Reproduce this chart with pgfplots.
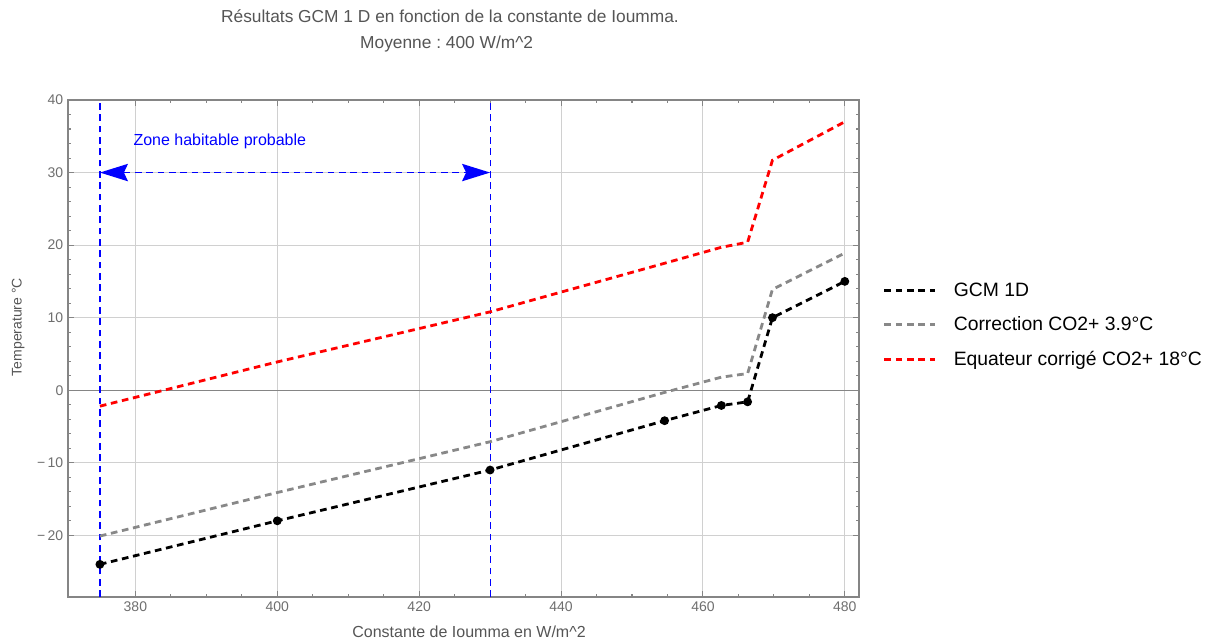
\documentclass[border=0pt]{standalone}
\usepackage{fontspec}
\setmainfont{Liberation Sans}
\usepackage{pgfplots}
\pgfplotsset{compat=1.18}
\usetikzlibrary{arrows.meta}
\frenchspacing

\definecolor{txtgray}{HTML}{555555}
\definecolor{tickgray}{HTML}{6E6E6E}
\definecolor{framegray}{HTML}{858585}
\definecolor{gridgray}{HTML}{D0D0D0}
\definecolor{corrgray}{HTML}{888888}

\begin{document}
\begin{tikzpicture}
\begin{axis}[
    scale only axis,
    width=593.25pt, height=372.75pt,
    xmin=370.5, xmax=482,
    ymin=-28.5, ymax=40,
    xtick={380,400,...,480},
    ytick={-20,-10,...,40},
    yticklabels={−\,20,−\,10,0,10,20,30,40},
    minor x tick num=3,
    minor y tick num=4,
    major tick length=4.5pt,
    minor tick length=2.5pt,
    tick style={framegray, line width=0.8pt},
    axis line style={framegray, line width=0.9pt},
    grid=major,
    grid style={gridgray, line width=0.7pt},
    extra y ticks={0},
    extra y tick labels={},
    extra y tick style={grid style={framegray, line width=0.9pt}},
    ticklabel style={font=\fontsize{10.5}{12}\selectfont, text=tickgray},
    /pgf/number format/assume math mode=true,
    xlabel={Constante de Ioumma en W/m\^{}2},
    ylabel={Temperature  °C},
    label style={font=\fontsize{10.5}{12}\selectfont, text=txtgray},
    xlabel style={at={(axis description cs:0.507,-0.07)}, anchor=center,
        font=\fontsize{12}{14}\selectfont},
    ylabel style={at={(axis description cs:-0.063,0.543)}, anchor=center},
    legend style={at={(1.025,0.547)}, anchor=west, draw=none, fill=none,
        font=\fontsize{14.5}{17}\selectfont, row sep=10pt,
        legend cell align=left},
    legend image code/.code={\draw[#1] (0pt,0pt) -- (38pt,0pt);},
    clip=false,
]
% zone habitable
\addplot[blue, line width=0.9pt, dash pattern=on 5pt off 3.5pt, forget plot]
    coordinates {(375,-28.5) (375,40)};
\addplot[blue, line width=0.9pt, dash pattern=on 5pt off 3.5pt, forget plot]
    coordinates {(430,-28.5) (430,40)};
\addplot[blue, line width=1pt, dash pattern=on 5pt off 3.5pt, forget plot,
    {Stealth[length=21pt,width=13pt,inset=3pt]}-{Stealth[length=21pt,width=13pt,inset=3pt]}]
    coordinates {(375,30) (430,30)};
\node[blue, anchor=west, inner sep=0pt, font=\fontsize{12}{14}\selectfont]
    at (axis cs:379.7,34.3) {Zone habitable probable};

\addplot[black, line width=2.1pt, dash pattern=on 5pt off 3.5pt,
    mark=*, mark size=2.2pt, mark options={solid}]
    coordinates {(375,-24) (400,-18) (430,-11) (454.6,-4.2) (462.6,-2.1)
                 (466.3,-1.6) (469.8,10) (480,15)};
\addlegendentry{\hspace*{11pt}GCM 1D}
\addplot[corrgray, line width=2.1pt, dash pattern=on 5pt off 3.5pt]
    coordinates {(375,-20.1) (400,-14.1) (430,-7.1) (454.6,-0.3) (462.6,1.8)
                 (466.3,2.3) (469.8,13.9) (480,18.9)};
\addlegendentry{\hspace*{11pt}Correction CO2+ 3.9°C}
\addplot[red, line width=2.1pt, dash pattern=on 5pt off 3.5pt]
    coordinates {(375,-2.2) (400,3.9) (430,10.8) (454.6,17.5) (462.6,19.7)
                 (466.3,20.4) (469.8,31.7) (480,37)};
\addlegendentry{\hspace*{11pt}Equateur corrigé CO2+ 18°C}
\end{axis}
\node[text=txtgray, font=\fontsize{13}{15}\selectfont, anchor=base]
    at ([xshift=286.5pt,yshift=58pt]current axis.north west)
    {Résultats GCM 1 D en fonction de la constante de Ioumma.};
\node[text=txtgray, font=\fontsize{13}{15}\selectfont, anchor=base]
    at ([xshift=284pt,yshift=38.5pt]current axis.north west)
    {Moyenne : 400 W/m\^{}2};
\path ([xshift=-51pt,yshift=-31.5pt]current axis.south west)
    rectangle ([xshift=858.75pt,yshift=447.75pt]current axis.south west);
\end{tikzpicture}
\end{document}
